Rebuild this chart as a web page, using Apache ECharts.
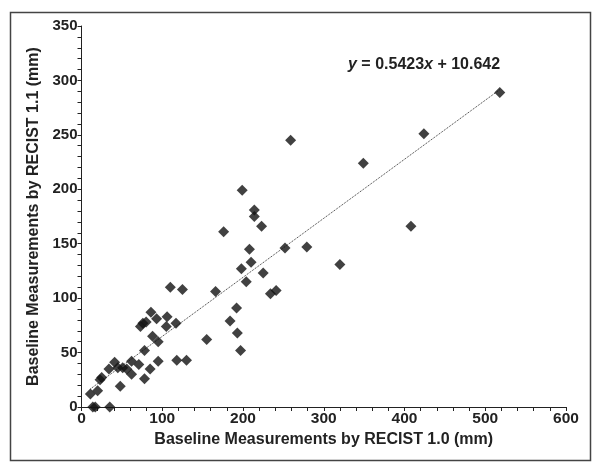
<!DOCTYPE html>
<html>
<head>
<meta charset="utf-8">
<script src="https://cdn.jsdelivr.net/npm/echarts@6/dist/echarts.min.js"></script>
<style>
  html, body { margin: 0; padding: 0; background: #fff; }
  #main { width: 601px; height: 470px; }
</style>
</head>
<body>
<div id="main"></div>
<script>
// baseline measurements (mm), RECIST 1.0 vs RECIST 1.1
const recist10 = [518, 424, 349, 408, 320, 279, 259, 252, 199, 214, 214, 223, 176, 208, 210, 198, 225, 204, 234, 241,
  110, 125, 166, 192, 184, 155, 193, 197, 86, 93, 106, 73, 76, 80, 105, 117, 88, 95, 78, 41,
  62, 71, 95, 118, 130, 34, 45, 51, 56, 62, 85, 78, 48, 23, 25, 20, 11, 14, 17, 35];
const recist11 = [289, 251, 224, 166, 131, 147, 245, 146, 199, 181, 175, 166, 161, 145, 133, 127, 123, 115, 104, 107,
  110, 108, 106, 91, 79, 62, 68, 52, 87, 81, 83, 74, 77, 78, 74, 77, 65, 60, 52, 41,
  42, 39, 42, 43, 43, 35, 36, 36, 35, 30, 35, 26, 19, 25, 27, 15, 12, 0, 0, 0];

// linear fit shown on the chart
const slope = 0.5423;
const intercept = 10.642;

const xTicks = { min: 0, max: 600, interval: 100 };
const yTicks = { min: 0, max: 350, interval: 50 };

const points = recist10.map((x, i) => [x, recist11[i]]);
const xMin = Math.min(...recist10);
const xMax = Math.max(...recist10);
const fitLine = [[xMin, slope * xMin + intercept], [xMax, slope * xMax + intercept]];

const chart = echarts.init(document.getElementById("main"));

const labelFont = {
  fontFamily: "Liberation Sans, Arial, sans-serif",
  fontWeight: "bold",
  color: "#222",
};

chart.setOption({
  animation: false,
  backgroundColor: "#fff",
  grid: { left: 81.5, right: 35, top: 26, bottom: 63 },
  graphic: [
    {
      type: "rect",
      left: 8,
      top: 10,
      shape: { width: 580, height: 448 },
      style: { fill: "none", stroke: "#444", lineWidth: 1.5 },
      silent: true,
    },
    {
      type: "text",
      left: 348,
      top: 57,
      style: {
        text: "{i|y} = 0.5423{i|x} + 10.642",
        font: "bold 16px Liberation Sans, Arial, sans-serif",
        fill: "#222",
        rich: {
          i: { fontStyle: "italic", fontWeight: "bold", fontSize: 16, fontFamily: "Liberation Sans, Arial, sans-serif", fill: "#222" },
        },
      },
    },
  ],
  xAxis: {
    type: "value",
    min: xTicks.min,
    max: xTicks.max,
    interval: xTicks.interval,
    name: "Baseline Measurements by RECIST 1.0 (mm)",
    nameLocation: "middle",
    nameGap: 22,
    nameTextStyle: { ...labelFont, fontSize: 16 },
    axisLine: { lineStyle: { color: "#222", width: 1 } },
    axisTick: { show: true, inside: false, length: 4, lineStyle: { color: "#222" } },
    minorTick: { show: true, splitNumber: 5, length: 4, lineStyle: { color: "#222" } },
    axisLabel: { ...labelFont, fontSize: 15.5, margin: 4 },
    splitLine: { show: false },
  },
  yAxis: {
    type: "value",
    min: yTicks.min,
    max: yTicks.max,
    interval: yTicks.interval,
    name: "Baseline Measurements by RECIST 1.1 (mm)",
    nameLocation: "middle",
    nameGap: 40,
    nameTextStyle: { ...labelFont, fontSize: 16 },
    axisLine: { show: true, lineStyle: { color: "#222", width: 1 } },
    axisTick: { show: true, inside: false, length: 4, lineStyle: { color: "#222" } },
    minorTick: { show: true, splitNumber: 5, length: 4, lineStyle: { color: "#222" } },
    axisLabel: { ...labelFont, fontSize: 15, margin: 4 },
    splitLine: { show: false },
  },
  series: [
    {
      name: "Fit",
      type: "line",
      data: fitLine,
      symbol: "none",
      lineStyle: { color: "#333", width: 1, type: [1, 1] },
      z: 1,
    },
    {
      name: "Lesions",
      type: "scatter",
      data: points,
      symbol: "diamond",
      symbolSize: 11,
      itemStyle: { color: "#111" },
      z: 2,
    },
  ],
});
</script>
</body>
</html>
